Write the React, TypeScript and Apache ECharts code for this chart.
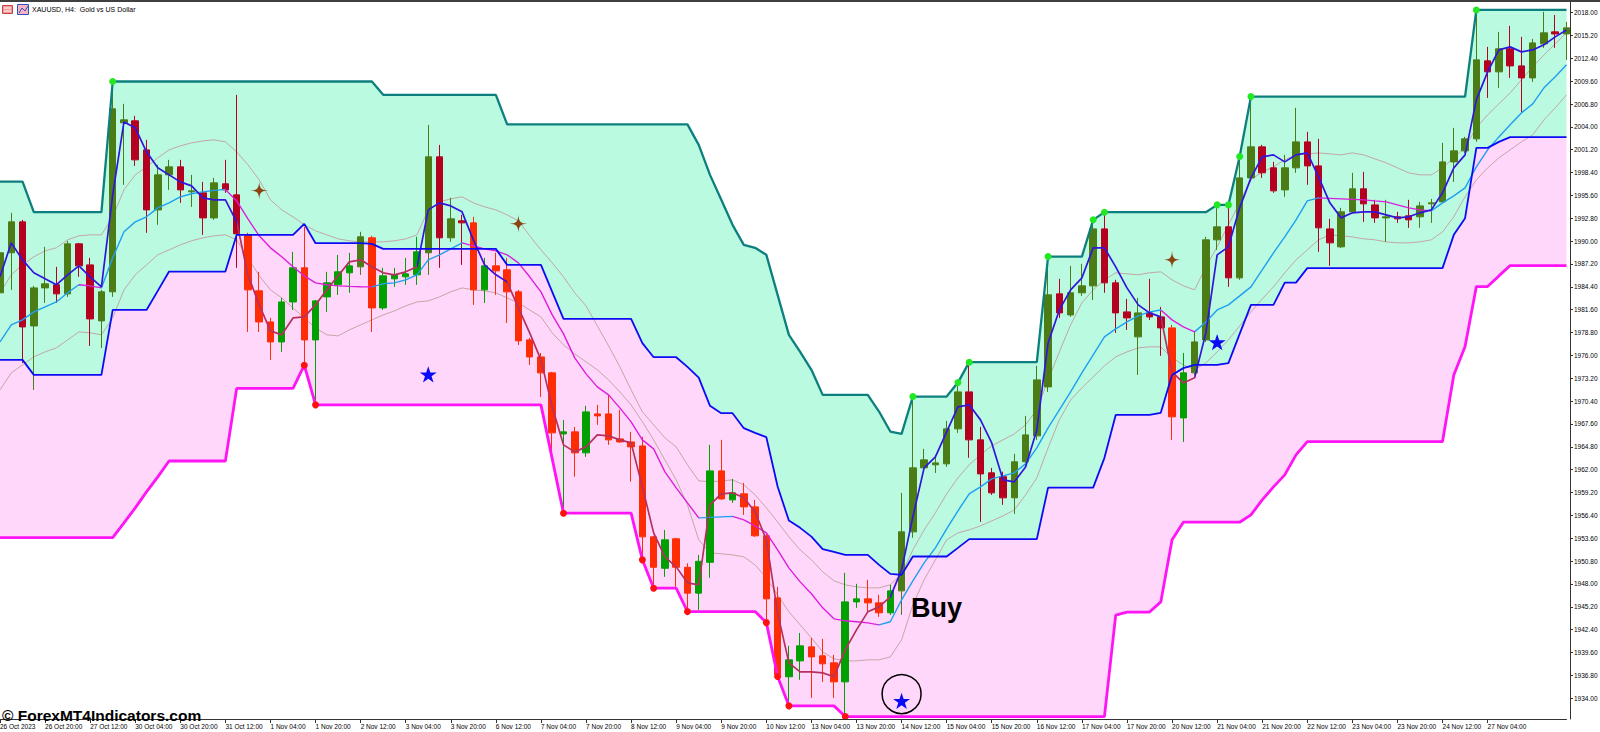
import React, { useEffect, useRef } from 'react';
import * as echarts from 'echarts';

const xLabels = ['26 Oct 2023','26 Oct 20:00','27 Oct 12:00','30 Oct 04:00','30 Oct 20:00','31 Oct 12:00','1 Nov 04:00','1 Nov 20:00','2 Nov 12:00','3 Nov 04:00','3 Nov 20:00','6 Nov 12:00','7 Nov 04:00','7 Nov 20:00','8 Nov 12:00','9 Nov 04:00','9 Nov 20:00','10 Nov 12:00','13 Nov 04:00','13 Nov 20:00','14 Nov 12:00','15 Nov 04:00','15 Nov 20:00','16 Nov 12:00','17 Nov 04:00','17 Nov 20:00','20 Nov 12:00','21 Nov 04:00','21 Nov 20:00','22 Nov 12:00','23 Nov 04:00','23 Nov 20:00','24 Nov 12:00','27 Nov 04:00','27 Nov 20:00'];

const yTicks = [1934.00,1936.80,1939.60,1942.40,1945.20,1948.00,1950.80,1953.60,1956.40,1959.20,1962.00,1964.80,1967.60,1970.40,1973.20,1976.00,1978.80,1981.60,1984.40,1987.20,1990.00,1992.80,1995.60,1998.40,2001.20,2004.00,2006.80,2009.60,2012.40,2015.20,2018.00];

const open = [1983.67,1988.57,1992.36,1979.61,1984.27,1984.65,1983.54,1989.67,1987.09,1980.23,
1983.79,2004.49,2004.74,2001.18,1993.83,1998.12,1999.10,1996.04,1995.92,1992.85,
1997.02,1995.67,1990.77,1983.91,1980.10,1977.65,1982.55,1986.73,1977.90,1983.17,
1984.65,1986.12,1986.85,1990.41,1981.82,1985.38,1985.63,1985.87,1988.57,2000.33,
1990.41,1992.49,1992.24,1984.03,1986.97,1986.48,1983.79,1977.90,1975.81,1973.86,
1966.38,1966.63,1964.06,1968.83,1968.83,1965.77,1965.40,1964.91,1953.77,1949.92,
1953.53,1950.04,1946.87,1950.65,1961.85,1958.30,1959.04,1957.44,1953.89,1946.29,
1936.62,1938.57,1940.29,1939.19,1938.33,1936.00,1945.80,1946.17,1945.68,1944.46,
1947.15,1954.38,1962.22,1962.59,1962.71,1967.00,1971.53,1965.65,1961.61,1961.14,
1958.55,1962.96,1966.14,1972.14,1983.54,1980.96,1983.67,1984.52,1991.50,1984.89,
1981.33,1978.27,1981.21,1980.72,1979.37,1968.34,1973.86,1977.90,1990.16,1991.75,
1985.50,1997.75,2001.55,1998.98,1996.28,1998.98,2002.16,1999.22,1991.50,1989.30,
1993.59,1996.41,1994.44,1992.85,1992.98,1993.10,1992.98,1994.57,1994.81,1999.71,
2001.06,2002.53,2012.09,2010.74,2013.56,2011.47,2010.00,2014.17,2015.64,2015.39];

const high = [1990.16,1993.47,1992.61,1984.52,1989.30,1986.85,1990.04,1989.79,1987.95,1984.03,
2009.51,2006.82,2005.35,2002.41,1999.35,1999.96,1999.96,1998.12,1997.26,1997.75,
1999.96,2007.92,1991.02,1986.24,1980.59,1983.05,1988.69,1991.75,1982.80,1986.24,
1988.32,1988.57,1991.14,1990.65,1986.73,1986.73,1987.95,1990.53,2004.25,2001.79,
1995.31,1993.22,1992.98,1987.95,1988.57,1987.95,1984.03,1978.15,1976.30,1973.98,
1968.10,1967.24,1969.82,1969.94,1971.16,1969.33,1966.63,1966.02,1953.89,1954.62,
1953.65,1950.53,1951.56,1965.04,1965.65,1960.87,1960.38,1958.30,1954.14,1947.64,
1940.41,1942.00,1941.39,1941.27,1939.31,1949.36,1948.01,1948.50,1946.66,1947.89,
1959.16,1970.92,1964.55,1963.81,1967.98,1972.63,1975.21,1967.24,1962.22,1961.75,
1963.94,1968.59,1974.72,1988.08,1985.38,1986.97,1987.22,1992.61,1993.59,1985.26,
1982.92,1983.05,1985.38,1981.94,1979.74,1976.30,1978.88,1990.53,1994.44,1994.44,
2000.33,2007.68,2001.79,1999.71,2000.57,2006.33,2003.39,2002.53,1992.73,1994.08,
1998.37,1998.49,1995.06,1995.06,1993.59,1995.06,1994.81,1995.18,2002.04,2003.88,
2002.78,2018.33,2013.80,2015.64,2016.37,2015.03,2014.78,2018.09,2017.72,2016.86];

const low = [1982.80,1984.03,1975.08,1971.77,1982.43,1982.43,1983.17,1985.63,1977.16,1976.92,
1983.17,1996.90,1999.22,1991.02,1992.00,1996.28,1994.69,1994.20,1990.77,1992.61,
1995.92,1986.73,1978.88,1978.88,1975.45,1976.43,1981.57,1974.59,1969.94,1981.33,
1983.42,1983.67,1985.87,1978.88,1981.57,1984.40,1984.65,1984.65,1985.87,1986.73,
1989.92,1987.09,1982.19,1982.43,1983.42,1979.98,1977.28,1974.83,1970.92,1964.18,
1956.71,1961.14,1963.57,1967.49,1965.04,1965.28,1960.53,1950.95,1947.52,1948.87,
1947.64,1944.58,1944.82,1948.75,1958.30,1957.93,1956.46,1953.77,1943.23,1936.62,
1933.06,1936.25,1934.04,1936.00,1934.04,1931.72,1945.07,1944.58,1943.97,1944.21,
1944.21,1953.65,1961.85,1961.60,1962.34,1966.51,1963.45,1955.60,1958.91,1957.69,
1956.59,1962.22,1965.65,1971.53,1980.59,1980.72,1983.29,1982.80,1983.67,1978.76,
1979.12,1973.61,1980.35,1975.94,1965.65,1965.40,1973.37,1977.65,1988.93,1984.40,
1985.26,1997.26,1997.75,1995.92,1995.43,1998.37,1996.90,1988.69,1986.97,1989.18,
1993.47,1992.36,1992.24,1989.92,1992.24,1991.63,1991.63,1992.24,1994.69,1997.26,
2000.81,2002.16,2007.55,2008.78,2010.00,2005.71,2009.51,2013.68,2013.68,2012.21];

const close = [1988.57,1992.36,1979.49,1984.27,1984.77,1983.54,1989.67,1986.97,1980.47,1983.79,
2006.21,2004.86,1999.96,1993.83,1998.12,1999.10,1996.28,1996.16,1992.85,1997.14,
1996.28,1990.90,1984.03,1980.10,1977.65,1982.55,1986.73,1977.90,1982.68,1984.89,
1986.24,1986.97,1990.53,1981.82,1985.75,1985.87,1986.00,1988.69,2000.33,1990.41,
1992.73,1992.24,1984.03,1986.97,1986.36,1983.79,1977.78,1975.81,1973.86,1966.51,
1966.63,1964.06,1969.08,1968.59,1965.65,1965.40,1964.79,1953.77,1950.04,1953.40,
1950.04,1946.87,1950.77,1961.85,1958.42,1959.16,1957.44,1953.89,1946.17,1936.87,
1938.70,1940.41,1939.06,1938.21,1936.00,1945.80,1946.17,1945.68,1944.46,1947.15,
1954.38,1962.22,1963.20,1962.83,1967.00,1971.53,1965.65,1961.48,1959.16,1958.55,
1962.96,1966.26,1973.00,1983.42,1981.21,1983.67,1984.52,1991.50,1984.89,1981.21,
1980.59,1981.21,1980.72,1979.37,1968.47,1973.86,1977.65,1990.16,1991.75,1985.50,
1997.75,2001.55,1998.37,1996.16,1998.98,2002.16,1999.22,1991.63,1989.79,1993.59,
1996.41,1994.57,1992.85,1992.98,1992.73,1992.61,1994.32,1994.69,1999.71,2001.06,
2002.53,2012.21,2010.74,2013.56,2011.47,2010.00,2014.29,2015.52,2015.39,2016.13];

const upperCh = [1997.30,1997.30,1997.30,1993.55,1993.55,1993.55,1993.55,1993.55,1993.55,1993.55,
2009.56,2009.56,2009.56,2009.56,2009.56,2009.56,2009.56,2009.56,2009.56,2009.56,
2009.56,2009.56,2009.56,2009.56,2009.56,2009.56,2009.56,2009.56,2009.56,2009.56,
2009.56,2009.56,2009.56,2009.56,2007.93,2007.93,2007.93,2007.93,2007.93,2007.93,
2007.93,2007.93,2007.93,2007.93,2007.93,2004.31,2004.31,2004.31,2004.31,2004.31,
2004.31,2004.31,2004.31,2004.31,2004.31,2004.31,2004.31,2004.31,2004.31,2004.31,
2004.31,2004.31,2001.79,1998.12,1995.06,1992.00,1989.54,1989.18,1988.32,1983.42,
1978.52,1976.43,1974.23,1971.16,1971.16,1971.16,1971.16,1971.16,1969.12,1966.67,
1966.38,1970.96,1970.96,1970.96,1970.96,1972.67,1975.17,1975.17,1975.17,1975.17,
1975.17,1975.17,1975.17,1988.11,1988.11,1988.11,1988.11,1992.61,1993.55,1993.55,
1993.55,1993.55,1993.55,1993.55,1993.55,1993.55,1993.55,1993.55,1994.44,1994.44,
2000.36,2007.71,2007.71,2007.71,2007.71,2007.71,2007.71,2007.71,2007.71,2007.71,
2007.71,2007.71,2007.71,2007.71,2007.71,2007.71,2007.71,2007.71,2007.71,2007.71,
2007.71,2018.33,2018.33,2018.33,2018.33,2018.33,2018.33,2018.33,2018.33,2018.33];

const midCh = [1975.45,1975.45,1975.45,1973.61,1973.61,1973.61,1973.61,1973.61,1973.61,1973.61,
1981.57,1981.57,1981.57,1981.57,1983.91,1986.27,1986.27,1986.27,1986.27,1986.27,
1986.27,1990.77,1990.77,1990.77,1990.77,1990.77,1990.77,1992.12,1989.75,1989.75,
1989.75,1989.75,1989.75,1989.67,1989.05,1989.05,1989.05,1989.05,1989.05,1989.05,
1989.05,1989.05,1989.05,1989.05,1989.05,1987.09,1987.09,1987.09,1987.09,1983.79,
1980.47,1980.47,1980.47,1980.47,1980.47,1980.47,1980.47,1977.50,1975.78,1975.78,
1975.78,1974.59,1973.28,1969.82,1968.92,1968.92,1967.08,1966.51,1965.98,1959.93,
1955.76,1954.87,1953.80,1952.26,1951.93,1951.56,1951.56,1951.56,1950.34,1949.23,
1949.11,1951.36,1951.36,1951.36,1951.36,1952.42,1953.49,1953.49,1953.49,1953.49,
1953.49,1953.49,1953.49,1959.80,1959.80,1959.80,1959.80,1959.80,1963.45,1968.71,
1968.71,1968.71,1968.71,1968.96,1973.61,1974.44,1974.84,1974.84,1974.84,1975.05,
1978.64,1982.19,1982.19,1982.19,1984.92,1984.92,1986.69,1986.69,1986.69,1986.69,
1986.69,1986.69,1986.69,1986.69,1986.69,1986.69,1986.69,1986.69,1986.69,1990.77,
1992.81,2001.43,2001.43,2002.16,2002.74,2002.74,2002.74,2002.74,2002.74,2002.74];

const lowerCh = [1953.67,1953.67,1953.67,1953.67,1953.67,1953.67,1953.67,1953.67,1953.67,1953.67,
1953.67,1955.48,1957.32,1959.28,1961.12,1963.06,1963.06,1963.06,1963.06,1963.06,
1963.06,1971.96,1971.96,1971.96,1971.96,1971.96,1971.96,1974.80,1969.94,1969.94,
1969.94,1969.94,1969.94,1969.94,1969.94,1969.94,1969.94,1969.94,1969.94,1969.94,
1969.94,1969.94,1969.94,1969.94,1969.94,1969.94,1969.94,1969.94,1969.94,1963.32,
1956.67,1956.67,1956.67,1956.67,1956.67,1956.67,1956.67,1950.95,1947.48,1947.48,
1947.48,1944.61,1944.61,1944.61,1944.61,1944.61,1944.61,1944.61,1943.26,1936.65,
1933.06,1933.06,1933.06,1933.06,1933.06,1931.75,1931.75,1931.75,1931.75,1931.75,
1931.75,1931.75,1931.75,1931.75,1931.75,1931.75,1931.75,1931.75,1931.75,1931.75,
1931.75,1931.75,1931.75,1931.75,1931.75,1931.75,1931.75,1931.75,1931.75,1944.17,
1944.55,1944.55,1944.55,1945.80,1953.40,1955.56,1955.56,1955.56,1955.56,1955.56,
1955.56,1956.46,1958.30,1959.89,1961.36,1963.81,1965.44,1965.44,1965.44,1965.44,
1965.44,1965.44,1965.44,1965.44,1965.44,1965.44,1965.44,1965.44,1965.44,1973.61,
1977.08,1984.43,1984.43,1985.74,1987.01,1987.01,1987.01,1987.01,1987.01,1987.01];

const fastMA = [1985.63,1989.79,1987.71,1986.12,1985.38,1984.65,1985.87,1986.97,1985.63,1984.40,
1995.67,2004.61,2003.88,2000.94,1998.98,1998.12,1997.26,1996.77,1995.31,1995.06,
1995.06,1992.36,1985.87,1982.19,1979.00,1978.52,1980.59,1980.72,1982.19,1984.03,
1985.75,1987.46,1987.71,1986.85,1986.12,1985.87,1986.24,1986.85,1993.83,1994.69,
1994.32,1993.59,1990.16,1987.09,1985.87,1985.01,1981.82,1978.76,1975.45,1969.69,
1965.04,1964.18,1964.79,1966.26,1966.14,1965.65,1965.28,1959.89,1954.26,1951.32,
1950.09,1948.13,1947.89,1957.69,1959.04,1959.16,1958.55,1956.83,1953.40,1944.45,
1938.33,1937.23,1937.23,1937.10,1936.62,1939.92,1942.37,1944.58,1945.19,1946.42,
1949.72,1956.22,1962.22,1963.57,1966.63,1969.69,1969.94,1968.10,1965.28,1960.75,
1960.51,1962.34,1966.87,1977.53,1981.57,1984.03,1985.50,1989.18,1989.18,1986.85,
1984.27,1982.19,1981.21,1980.72,1973.98,1972.63,1973.25,1978.76,1988.32,1989.30,
1994.08,1997.75,2000.33,2000.57,1999.71,2000.57,2000.81,1997.87,1994.69,1992.85,
1993.47,1993.59,1993.59,1993.22,1992.85,1992.98,1993.47,1993.83,1995.92,1998.98,
2000.57,2007.31,2010.74,2013.43,2013.80,2013.19,2013.43,2014.05,2015.03,2015.88];

const slowMA = [1977.65,1979.74,1980.35,1981.33,1981.94,1982.55,1983.67,1984.65,1984.52,1984.27,
1987.95,1991.14,1992.36,1992.98,1994.08,1994.69,1995.43,1995.80,1996.04,1996.22,
1996.34,1994.93,1992.73,1990.65,1989.18,1988.08,1986.85,1985.75,1984.89,1984.65,
1984.52,1984.46,1984.42,1984.40,1984.77,1984.89,1985.26,1985.87,1987.71,1988.32,
1989.05,1989.79,1989.42,1989.05,1988.81,1988.32,1987.34,1985.63,1983.79,1980.96,
1978.64,1975.70,1973.74,1972.14,1971.16,1969.57,1967.86,1965.65,1964.55,1961.73,
1959.77,1957.93,1956.09,1956.16,1956.22,1956.28,1955.85,1955.11,1954.26,1952.17,
1949.97,1948.25,1946.79,1945.07,1943.72,1943.48,1943.36,1943.23,1942.99,1943.36,
1946.05,1948.38,1950.58,1952.42,1954.75,1956.95,1959.04,1959.89,1960.87,1961.24,
1961.61,1962.71,1964.67,1967.12,1969.33,1971.53,1973.86,1976.06,1978.27,1979.25,
1980.10,1980.84,1981.33,1981.57,1980.35,1979.49,1978.88,1980.10,1981.57,1982.19,
1983.29,1984.40,1986.48,1988.56,1990.52,1992.61,1994.93,1995.30,1995.24,1995.18,
1995.12,1995.06,1994.93,1994.81,1994.44,1994.08,1993.83,1993.71,1994.69,1995.55,
1996.53,1999.10,2001.18,2002.77,2004.25,2005.71,2006.82,2008.78,2010.13,2011.60];

const bandUp = [1983.66,1985.87,1987.09,1988.08,1988.81,1989.18,1990.16,1990.65,1990.77,1990.77,
1992.98,1996.28,1998.12,1999.10,2000.20,2001.18,2001.67,2002.04,2002.28,2002.41,
2002.16,2000.94,1999.35,1997.51,1995.06,1993.83,1992.98,1992.00,1991.26,1990.77,
1990.28,1990.04,1989.91,1989.91,1989.91,1990.04,1990.28,1990.77,1993.83,1994.81,
1995.18,1995.43,1994.69,1994.20,1993.83,1993.22,1992.49,1990.65,1988.93,1987.34,
1985.63,1983.66,1982.07,1979.62,1977.17,1974.60,1971.78,1969.08,1967.49,1965.90,
1964.79,1962.59,1960.63,1960.51,1960.63,1960.75,1960.14,1958.91,1957.32,1955.60,
1953.77,1952.17,1950.95,1949.48,1948.38,1947.89,1947.64,1947.52,1947.52,1947.89,
1949.23,1952.17,1954.62,1956.71,1959.04,1961.00,1962.59,1963.81,1964.92,1965.65,
1966.38,1967.49,1969.33,1973.00,1976.43,1979.74,1982.44,1984.03,1985.26,1986.12,
1985.99,1985.87,1986.12,1986.24,1985.26,1984.52,1984.03,1986.85,1989.30,1992.00,
1994.69,1997.51,1998.49,1999.10,1999.96,2000.57,2000.69,2000.81,2000.69,2000.57,
2000.81,2000.57,2000.08,1999.59,1998.98,1998.37,1998.12,1998.12,1998.98,2000.20,
2001.55,2003.88,2005.47,2006.82,2008.17,2009.76,2011.35,2012.82,2014.17,2015.52];

const bandDn = [1971.78,1973.86,1974.84,1975.82,1976.43,1976.92,1977.90,1978.88,1978.76,1978.52,
1980.59,1984.03,1985.87,1987.09,1988.32,1988.93,1989.54,1990.04,1990.40,1990.65,
1990.77,1990.16,1987.95,1985.75,1984.03,1983.05,1981.82,1980.59,1979.37,1978.52,
1978.39,1979.12,1979.74,1980.35,1980.96,1981.45,1982.07,1982.55,1982.68,1983.17,
1983.79,1984.27,1984.03,1983.91,1983.66,1983.05,1982.43,1981.57,1980.72,1978.76,
1977.29,1976.19,1975.21,1974.23,1973.00,1971.53,1969.94,1967.86,1965.65,1963.20,
1960.75,1957.69,1953.40,1951.81,1951.69,1951.56,1951.32,1950.34,1948.75,1946.66,
1944.58,1942.99,1941.39,1939.68,1938.82,1938.57,1938.57,1938.70,1938.70,1939.06,
1941.15,1945.44,1948.50,1950.95,1953.40,1954.26,1954.62,1955.11,1955.72,1956.34,
1957.07,1958.91,1960.99,1964.67,1968.10,1970.55,1972.02,1973.37,1974.72,1975.82,
1976.43,1976.92,1977.05,1977.05,1975.70,1974.84,1974.23,1975.08,1976.43,1977.90,
1979.62,1981.33,1982.92,1984.40,1986.12,1987.71,1988.93,1990.16,1990.77,1990.65,
1990.52,1990.28,1990.16,1989.91,1989.79,1989.79,1989.91,1990.16,1991.14,1992.98,
1995.43,1997.51,1998.98,2000.20,2001.18,2002.16,2003.02,2004.86,2006.33,2007.92];

const highDots = [10, 81, 85, 86, 93, 97, 98, 108, 109, 110, 111, 131];
const lowDots = [27, 28, 50, 57, 58, 61, 68, 69, 70, 75];
const brownStars = [[23, 1996.2], [46, 1992.12], [104, 1987.71]];
const blueStars = [[38, 1973.67], [108, 1977.62], [80, 1933.67]];
const circleMark = [[80, 1934.5]];
const fastDownRanges = [[21, 37], [45, 79], [103, 106]];
const slowDownRanges = [[7, 9], [20, 33], [41, 62], [65, 78], [103, 106], [117, 127]];

const FONT = '"Liberation Sans", Arial, sans-serif';
const STAR5 = 'path://M50 0 L61.8 35.1 L98.5 35.1 L68.8 56.8 L80.2 91.9 L50 70.2 L19.8 91.9 L31.2 56.8 L1.5 35.1 L38.2 35.1 Z';
const STAR4 = 'path://M50 0 C53 40 60 47 100 50 C60 53 53 60 50 100 C47 60 40 53 0 50 C40 47 47 40 50 0 Z';

function buildPieces(ranges: number[][], base: string, alt: string) {
  const pieces: any[] = [];
  let cur = -10;
  ranges.forEach(([a, b]) => {
    pieces.push({ gte: cur, lt: a, color: base });
    pieces.push({ gte: a, lt: b, color: alt });
    cur = b;
  });
  pieces.push({ gte: cur, lte: 1000, color: base });
  return pieces;
}

export default function App() {
  const ref = useRef<HTMLDivElement>(null);
  useEffect(() => {
    document.body.style.margin = '0';
    const chart = echarts.init(ref.current!, undefined, { renderer: 'svg' });
    const cats = open.map((_, i) => String(i));
    const candles = open.map((o, i) => {
      const bright = close[i] < midCh[i];
      const up = close[i] >= o;
      const col = bright ? (up ? '#00a000' : '#ff2d05') : (up ? '#4c7c16' : '#b5001f');
      return {
        value: [o, close[i], low[i], high[i]],
        itemStyle: { color: col, color0: col, borderColor: col, borderColor0: col, borderWidth: 1 },
      };
    });
    const pinkDiff = midCh.map((m, i) => +(m - lowerCh[i]).toFixed(4));
    const mintDiff = upperCh.map((u, i) => +(u - midCh[i]).toFixed(4));
    const lineBase = { type: 'line', showSymbol: false, symbol: 'none', silent: true, animation: false };

    const option: any = {
      animation: false,
      grid: { left: 0, right: 33.5, top: 2, bottom: 13, outerBoundsMode: 'none' },
      xAxis: {
        type: 'category',
        data: cats,
        boundaryGap: false,
        z: 20,
        axisLine: { show: true, lineStyle: { color: '#333', width: 1 } },
        axisTick: { show: true, length: 4, interval: (i: number) => i % 4 === 0, lineStyle: { color: '#333' } },
        axisLabel: {
          show: true,
          interval: (i: number) => i % 4 === 0,
          formatter: (_v: string, i: number) => (i % 4 === 0 && xLabels[i / 4]) ? xLabels[i / 4] : '',
          align: 'left',
          fontSize: 6.5,
          fontFamily: FONT,
          color: '#000',
          margin: 4,
          showMaxLabel: false,
        },
        splitLine: { show: false },
      },
      yAxis: {
        type: 'value',
        position: 'right',
        offset: 3.5,
        min: 1931.45,
        max: 2019.30,
        scale: true,
        z: 20,
        splitLine: { show: false },
        axisLine: { show: true, lineStyle: { color: '#333', width: 1 } },
        axisTick: { show: true, length: 3, customValues: yTicks, lineStyle: { color: '#333' } },
        axisLabel: {
          customValues: yTicks,
          formatter: (v: number) => v.toFixed(2),
          fontSize: 6.5,
          fontFamily: FONT,
          color: '#000',
          margin: 4,
        },
      },
      visualMap: [
        { type: 'piecewise', show: false, dimension: 0, seriesIndex: 7, pieces: buildPieces(fastDownRanges, '#3314dc', '#b5305f') },
        { type: 'piecewise', show: false, dimension: 0, seriesIndex: 6, pieces: buildPieces(slowDownRanges, '#1e9ff0', '#dc1edc') },
      ],
      series: [
        { ...lineBase, name: 'base', z: 1, data: lowerCh, stack: 'ch', lineStyle: { opacity: 0, width: 0 } },
        { ...lineBase, name: 'pink', z: 1, data: pinkDiff, stack: 'ch', lineStyle: { opacity: 0, width: 0 }, areaStyle: { color: '#ffd7fa', opacity: 1 } },
        { ...lineBase, name: 'mint', z: 1, data: mintDiff, stack: 'ch', lineStyle: { opacity: 0, width: 0 }, areaStyle: { color: '#b9fae1', opacity: 1 } },
        { ...lineBase, name: 'bandUp', z: 3, data: bandUp, lineStyle: { color: '#c4a6a6', width: 1 } },
        { ...lineBase, name: 'bandDn', z: 3, data: bandDn, lineStyle: { color: '#c4a6a6', width: 1 } },
        { type: 'candlestick', name: 'XAUUSD', z: 5, data: candles, barWidth: 7, silent: true },
        { ...lineBase, name: 'slow', z: 7, data: slowMA, lineStyle: { width: 1.4 } },
        { ...lineBase, name: 'fast', z: 7, data: fastMA, lineStyle: { width: 1.7 } },
        { ...lineBase, name: 'upper', z: 8, data: upperCh, lineStyle: { color: '#0e7f7f', width: 2.3 } },
        { ...lineBase, name: 'mid', z: 8, data: midCh, lineStyle: { color: '#0c0cf2', width: 1.8 } },
        { ...lineBase, name: 'lower', z: 8, data: lowerCh, lineStyle: { color: '#ff14f5', width: 2.8 } },
        { type: 'scatter', name: 'highDots', z: 10, silent: true, symbol: 'circle', symbolSize: 7, data: highDots.map((i) => [i, upperCh[i]]), itemStyle: { color: '#22e822', opacity: 1 } },
        { type: 'scatter', name: 'lowDots', z: 10, silent: true, symbol: 'circle', symbolSize: 7, data: lowDots.map((i) => [i, lowerCh[i]]), itemStyle: { color: '#ff1010', opacity: 1 } },
        { type: 'scatter', name: 'circleMark', z: 10, silent: true, symbol: 'circle', symbolSize: 39, data: circleMark.map((p) => [p[0], p[1]]), itemStyle: { color: 'rgba(0,0,0,0)', borderColor: '#000', borderWidth: 1.5, opacity: 1 } },
        { type: 'scatter', name: 'brownStars', z: 11, silent: true, symbol: STAR4, symbolSize: 18, symbolKeepAspect: true, data: brownStars.map((p) => [p[0], p[1]]), itemStyle: { color: '#8b4513', opacity: 1 } },
        { type: 'scatter', name: 'blueStars', z: 11, silent: true, symbol: STAR5, symbolSize: 17, symbolKeepAspect: true, data: blueStars.map((p) => [p[0], p[1]]), itemStyle: { color: '#0a0af5', opacity: 1 } },
      ],
      graphic: [
        { type: 'line', z: 100, shape: { x1: 0, y1: 1, x2: 1600, y2: 1 }, style: { stroke: '#404040', lineWidth: 2 } },
        { type: 'rect', z: 100, shape: { x: 2.5, y: 5.5, width: 10, height: 8 }, style: { fill: '#f49a9a', stroke: '#c84040', lineWidth: 1 } },
        { type: 'line', z: 101, shape: { x1: 4, y1: 8, x2: 11, y2: 8 }, style: { stroke: '#fff', lineWidth: 1 } },
        { type: 'line', z: 101, shape: { x1: 4, y1: 11, x2: 11, y2: 11 }, style: { stroke: '#fff', lineWidth: 1 } },
        { type: 'rect', z: 100, shape: { x: 17.5, y: 4.5, width: 11, height: 10 }, style: { fill: '#f8b4c4', stroke: '#3050c0', lineWidth: 1 } },
        { type: 'polyline', z: 101, shape: { points: [[19, 13], [22, 8], [25, 11], [28, 6]] }, style: { stroke: '#3050c0', lineWidth: 1, fill: 'none' } },
        { type: 'text', z: 100, x: 32, y: 9, style: { text: 'XAUUSD, H4:  Gold vs US Dollar', fontSize: 7, fontFamily: FONT, fill: '#000', verticalAlign: 'middle', align: 'left' } },
        { type: 'text', z: 100, x: 911, y: 607.5, style: { text: 'Buy', fontSize: 27, fontWeight: 'bold', fontFamily: FONT, fill: '#000', verticalAlign: 'middle', align: 'left' } },
        { type: 'text', z: 100, x: 2, y: 715.5, style: { text: '© ForexMT4Indicators.com', fontSize: 15.5, fontWeight: 'bold', fontFamily: FONT, fill: '#000', verticalAlign: 'middle', align: 'left' } },
      ],
    };
    chart.setOption(option);
    return () => chart.dispose();
  }, []);
  return <div ref={ref} style={{ width: 1600, height: 732 }} />;
}
